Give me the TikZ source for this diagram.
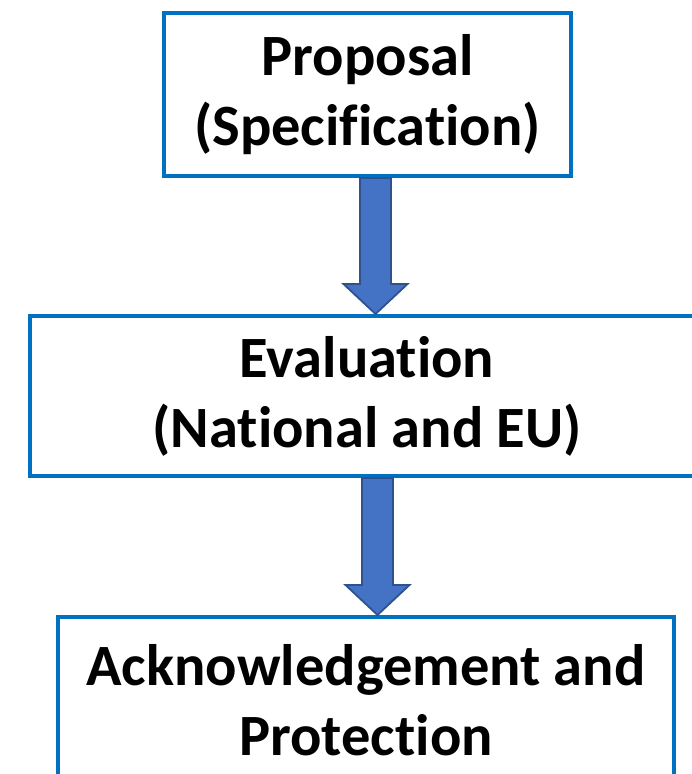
\documentclass[tikz,border=0pt]{standalone}
\usepackage{fontspec}
\setmainfont{Carlito}[Ligatures=NoCommon]
\usetikzlibrary{calc}
\definecolor{boxblue}{HTML}{0070C0}
\definecolor{arrfill}{HTML}{4472C4}
\definecolor{arrline}{HTML}{2F528F}
\tikzset{
  stagebox/.style={draw=boxblue, line width=4pt, fill=white, rectangle, align=center,
    inner sep=0pt, font=\bfseries\fontsize{58.5}{70}\selectfont},
  blockarrow/.style={fill=arrfill, draw=arrline, line width=1.8pt, line join=miter}
}
\begin{document}
\begin{tikzpicture}[x=1pt,y=-1pt]
\useasboundingbox (0,0) rectangle (692,774);
\clip (0,0) rectangle (692,774);
\fill[white] (0,0) rectangle (692,774);
\node[stagebox, minimum width=407pt, minimum height=163pt] (p) at (367.5,94.5) {Proposal\\(Specification)};
\node[stagebox, minimum width=674pt, minimum height=160pt] (e) at (367,396) {Evaluation\\(National and EU)};
\node[stagebox, minimum width=616pt, minimum height=166pt] (a) at (366,700) {Acknowledgement and\\Protection};
\coordinate (x1) at (375.5,0);
\coordinate (x2) at (377.5,0);
\draw[blockarrow] ($(x1|-p.south)+(-15.5,0)$) -- ($(x1|-e.north)+(-15.5,-30)$) -- ($(x1|-e.north)+(-32,-30)$) -- (x1|-e.north)
  -- ($(x1|-e.north)+(32,-30)$) -- ($(x1|-e.north)+(15.5,-30)$) -- ($(x1|-p.south)+(15.5,0)$) -- cycle;
\draw[blockarrow] ($(x2|-e.south)+(-15.5,0)$) -- ($(x2|-a.north)+(-15.5,-30)$) -- ($(x2|-a.north)+(-32,-30)$) -- (x2|-a.north)
  -- ($(x2|-a.north)+(32,-30)$) -- ($(x2|-a.north)+(15.5,-30)$) -- ($(x2|-e.south)+(15.5,0)$) -- cycle;
\end{tikzpicture}
\end{document}
